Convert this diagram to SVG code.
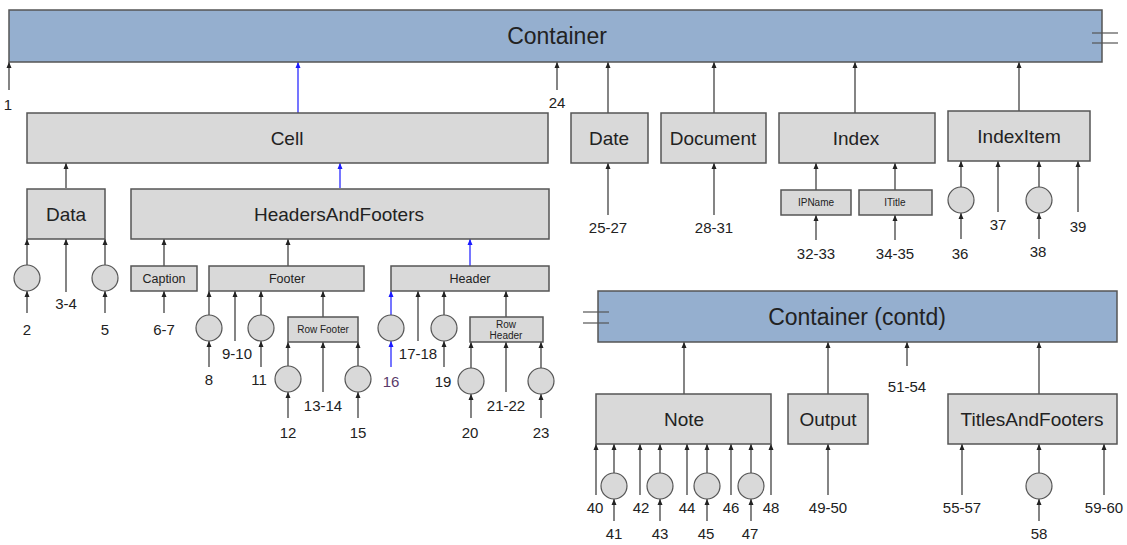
<svg xmlns="http://www.w3.org/2000/svg" width="1127" height="545" viewBox="0 0 1127 545">
<defs>
<marker id="ah" viewBox="0 0 6 6" refX="6" refY="3" markerWidth="6" markerHeight="6" markerUnits="userSpaceOnUse" orient="auto"><path d="M0,0.5 L6,3 L0,5.5 z" fill="#222"/></marker>
<marker id="ahb" viewBox="0 0 6 6" refX="6" refY="3" markerWidth="6" markerHeight="6" markerUnits="userSpaceOnUse" orient="auto"><path d="M0,0.5 L6,3 L0,5.5 z" fill="#1a1aff"/></marker>
<style>
.cont{fill:#95afcf;stroke:#555;stroke-width:1.5}
.box{fill:#d9d9d9;stroke:#555;stroke-width:1.5}
.circ{fill:#d9d9d9;stroke:#555;stroke-width:1.2}
.ln{stroke:#333;stroke-width:1.2;fill:none;marker-end:url(#ah)}
.bl{stroke:#1a1aff;stroke-width:1.2;fill:none;marker-end:url(#ahb)}
.mk{stroke:#555;stroke-width:1.2}
text{font-family:"Liberation Sans",Arial,sans-serif;fill:#222;text-anchor:middle}
.t22{font-size:23px}
.t18{font-size:19px}
.t12{font-size:12.5px}
.t10{font-size:10px}
.lb{font-size:15px}
</style>
</defs>

<g id="connectors">
<line class="ln" x1="9" y1="90" x2="9" y2="62"/>
<line class="bl" x1="298" y1="113" x2="298" y2="62"/>
<line class="ln" x1="557" y1="90" x2="557" y2="62"/>
<line class="ln" x1="608" y1="113" x2="608" y2="62"/>
<line class="ln" x1="714" y1="113" x2="714" y2="62"/>
<line class="ln" x1="855" y1="113" x2="855" y2="62"/>
<line class="ln" x1="1019" y1="111" x2="1019" y2="62"/>
<line class="ln" x1="66" y1="188" x2="66" y2="163"/>
<line class="bl" x1="340" y1="188" x2="340" y2="163"/>
<line class="ln" x1="27" y1="265" x2="27" y2="239"/>
<line class="ln" x1="27" y1="313" x2="27" y2="291"/>
<line class="ln" x1="66" y1="292" x2="66" y2="239"/>
<line class="ln" x1="105" y1="265" x2="105" y2="239"/>
<line class="ln" x1="105" y1="313" x2="105" y2="291"/>
<line class="ln" x1="164" y1="266" x2="164" y2="239"/>
<line class="ln" x1="164" y1="313" x2="164" y2="291"/>
<line class="ln" x1="288" y1="266" x2="288" y2="239"/>
<line class="bl" x1="470" y1="266" x2="470" y2="239"/>
<line class="ln" x1="209" y1="315" x2="209" y2="291"/>
<line class="ln" x1="209" y1="367" x2="209" y2="341"/>
<line class="ln" x1="235" y1="341" x2="235" y2="291"/>
<line class="ln" x1="261" y1="315" x2="261" y2="291"/>
<line class="ln" x1="261" y1="367" x2="261" y2="341"/>
<line class="ln" x1="323" y1="317" x2="323" y2="291"/>
<line class="ln" x1="288" y1="366" x2="288" y2="342"/>
<line class="ln" x1="288" y1="418" x2="288" y2="392"/>
<line class="ln" x1="323" y1="392" x2="323" y2="342"/>
<line class="ln" x1="358" y1="366" x2="358" y2="342"/>
<line class="ln" x1="358" y1="418" x2="358" y2="392"/>
<line class="bl" x1="391" y1="315" x2="391" y2="291"/>
<line class="bl" x1="391" y1="367" x2="391" y2="341"/>
<line class="ln" x1="418" y1="341" x2="418" y2="291"/>
<line class="ln" x1="444" y1="315" x2="444" y2="291"/>
<line class="ln" x1="444" y1="367" x2="444" y2="341"/>
<line class="ln" x1="506" y1="317" x2="506" y2="291"/>
<line class="ln" x1="471" y1="368" x2="471" y2="342"/>
<line class="ln" x1="471" y1="418" x2="471" y2="394"/>
<line class="ln" x1="506" y1="392" x2="506" y2="342"/>
<line class="ln" x1="541" y1="368" x2="541" y2="342"/>
<line class="ln" x1="541" y1="418" x2="541" y2="394"/>
<line class="ln" x1="608" y1="215" x2="608" y2="163"/>
<line class="ln" x1="714" y1="215" x2="714" y2="163"/>
<line class="ln" x1="816" y1="190" x2="816" y2="163"/>
<line class="ln" x1="895" y1="190" x2="895" y2="163"/>
<line class="ln" x1="816" y1="240" x2="816" y2="215"/>
<line class="ln" x1="895" y1="240" x2="895" y2="215"/>
<line class="ln" x1="961" y1="187" x2="961" y2="161"/>
<line class="ln" x1="961" y1="239" x2="961" y2="213"/>
<line class="ln" x1="998" y1="212" x2="998" y2="161"/>
<line class="ln" x1="1039" y1="187" x2="1039" y2="161"/>
<line class="ln" x1="1039" y1="239" x2="1039" y2="213"/>
<line class="ln" x1="1078" y1="212" x2="1078" y2="161"/>
<line class="ln" x1="684" y1="394" x2="684" y2="342"/>
<line class="ln" x1="828" y1="394" x2="828" y2="342"/>
<line class="ln" x1="907" y1="366" x2="907" y2="342"/>
<line class="ln" x1="1039" y1="394" x2="1039" y2="342"/>
<line class="ln" x1="596" y1="495" x2="596" y2="444"/>
<line class="ln" x1="614" y1="473" x2="614" y2="444"/>
<line class="ln" x1="614" y1="521" x2="614" y2="499"/>
<line class="ln" x1="640" y1="495" x2="640" y2="444"/>
<line class="ln" x1="660" y1="473" x2="660" y2="444"/>
<line class="ln" x1="660" y1="521" x2="660" y2="499"/>
<line class="ln" x1="687" y1="495" x2="687" y2="444"/>
<line class="ln" x1="707" y1="473" x2="707" y2="444"/>
<line class="ln" x1="707" y1="521" x2="707" y2="499"/>
<line class="ln" x1="731" y1="495" x2="731" y2="444"/>
<line class="ln" x1="751" y1="473" x2="751" y2="444"/>
<line class="ln" x1="751" y1="521" x2="751" y2="499"/>
<line class="ln" x1="771" y1="495" x2="771" y2="444"/>
<line class="ln" x1="828" y1="495" x2="828" y2="444"/>
<line class="ln" x1="962" y1="495" x2="962" y2="444"/>
<line class="ln" x1="1039" y1="473" x2="1039" y2="444"/>
<line class="ln" x1="1039" y1="521" x2="1039" y2="499"/>
<line class="ln" x1="1104" y1="495" x2="1104" y2="444"/>
</g>

<g id="container">
<rect class="cont" x="9" y="10" width="1093" height="52"/>
<text class="t22" x="557" y="44">Container</text>
<line class="mk" x1="1092" y1="33" x2="1118" y2="33"/>
<line class="mk" x1="1092" y1="43" x2="1118" y2="43"/>
</g>

<g id="container-contd">
<rect class="cont" x="598" y="291" width="519" height="51"/>
<text class="t22" x="857" y="325">Container (contd)</text>
<line class="mk" x1="583" y1="312" x2="609" y2="312"/>
<line class="mk" x1="583" y1="323" x2="609" y2="323"/>
</g>

<g id="cell"><rect class="box" x="27" y="113" width="521" height="50"/><text class="t18" x="287" y="145">Cell</text></g>
<g id="date"><rect class="box" x="571" y="113" width="77" height="50"/><text class="t18" x="609" y="145">Date</text></g>
<g id="document"><rect class="box" x="661" y="113" width="105" height="50"/><text class="t18" x="713" y="145">Document</text></g>
<g id="index"><rect class="box" x="779" y="113" width="156" height="50"/><text class="t18" x="856" y="145">Index</text></g>
<g id="indexitem"><rect class="box" x="948" y="111" width="142" height="50"/><text class="t18" x="1019" y="143">IndexItem</text></g>

<g id="data"><rect class="box" x="27" y="189" width="78" height="50"/><text class="t18" x="66" y="221">Data</text></g>
<g id="headersandfooters"><rect class="box" x="131" y="189" width="418" height="50"/><text class="t18" x="339" y="221">HeadersAndFooters</text></g>

<g id="data-c1"><circle class="circ" cx="27" cy="278" r="13"/></g>
<g id="data-c2"><circle class="circ" cx="105" cy="278" r="13"/></g>

<g id="caption"><rect class="box" x="131" y="266" width="66" height="25"/><text class="t12" x="164" y="283">Caption</text></g>
<g id="footer"><rect class="box" x="209" y="266" width="155" height="25"/><text class="t12" x="287" y="283">Footer</text></g>
<g id="header"><rect class="box" x="391" y="266" width="158" height="25"/><text class="t12" x="470" y="283">Header</text></g>

<g id="footer-c1"><circle class="circ" cx="209" cy="328" r="13"/></g>
<g id="footer-c2"><circle class="circ" cx="261" cy="328" r="13"/></g>
<g id="rowfooter"><rect class="box" x="288" y="317" width="70" height="25"/><text class="t10" x="323" y="333">Row Footer</text></g>
<g id="rowfooter-c1"><circle class="circ" cx="288" cy="379" r="13"/></g>
<g id="rowfooter-c2"><circle class="circ" cx="358" cy="379" r="13"/></g>

<g id="header-c1"><circle class="circ" cx="391" cy="328" r="13"/></g>
<g id="header-c2"><circle class="circ" cx="444" cy="328" r="13"/></g>
<g id="rowheader"><rect class="box" x="470" y="317" width="73" height="25"/><text class="t10" x="506" y="328">Row</text><text class="t10" x="506" y="339">Header</text></g>
<g id="rowheader-c1"><circle class="circ" cx="471" cy="381" r="13"/></g>
<g id="rowheader-c2"><circle class="circ" cx="541" cy="381" r="13"/></g>

<g id="ipname"><rect class="box" x="781" y="190" width="70" height="25"/><text class="t10" x="816" y="206">IPName</text></g>
<g id="ititle"><rect class="box" x="859" y="190" width="73" height="25"/><text class="t10" x="895" y="206">ITitle</text></g>
<g id="indexitem-c1"><circle class="circ" cx="961" cy="200" r="13"/></g>
<g id="indexitem-c2"><circle class="circ" cx="1039" cy="200" r="13"/></g>

<g id="note"><rect class="box" x="596" y="394" width="175" height="50"/><text class="t18" x="684" y="426">Note</text></g>
<g id="output"><rect class="box" x="788" y="394" width="80" height="50"/><text class="t18" x="828" y="426">Output</text></g>
<g id="titlesandfooters"><rect class="box" x="948" y="394" width="169" height="50"/><text class="t18" x="1032" y="426">TitlesAndFooters</text></g>
<g id="note-c1"><circle class="circ" cx="614" cy="486" r="13"/></g>
<g id="note-c2"><circle class="circ" cx="660" cy="486" r="13"/></g>
<g id="note-c3"><circle class="circ" cx="707" cy="486" r="13"/></g>
<g id="note-c4"><circle class="circ" cx="751" cy="486" r="13"/></g>
<g id="tf-c1"><circle class="circ" cx="1039" cy="486" r="13"/></g>

<g id="labels">
<text class="lb" x="8" y="110">1</text>
<text class="lb" x="557" y="108">24</text>
<text class="lb" x="27" y="335">2</text>
<text class="lb" x="66" y="309">3-4</text>
<text class="lb" x="105" y="335">5</text>
<text class="lb" x="164" y="335">6-7</text>
<text class="lb" x="209" y="385">8</text>
<text class="lb" x="237" y="359">9-10</text>
<text class="lb" x="259" y="385">11</text>
<text class="lb" x="288" y="438">12</text>
<text class="lb" x="323" y="411">13-14</text>
<text class="lb" x="358" y="438">15</text>
<text class="lb" x="391" y="387" style="fill:#5a3a6a">16</text>
<text class="lb" x="418" y="359">17-18</text>
<text class="lb" x="443" y="387">19</text>
<text class="lb" x="470" y="438">20</text>
<text class="lb" x="506" y="411">21-22</text>
<text class="lb" x="541" y="438">23</text>
<text class="lb" x="608" y="233">25-27</text>
<text class="lb" x="714" y="233">28-31</text>
<text class="lb" x="816" y="259">32-33</text>
<text class="lb" x="895" y="259">34-35</text>
<text class="lb" x="960" y="259">36</text>
<text class="lb" x="998" y="230">37</text>
<text class="lb" x="1038" y="257">38</text>
<text class="lb" x="1078" y="232">39</text>
<text class="lb" x="907" y="392">51-54</text>
<text class="lb" x="595" y="513">40</text>
<text class="lb" x="641" y="513">42</text>
<text class="lb" x="687" y="513">44</text>
<text class="lb" x="731" y="513">46</text>
<text class="lb" x="771" y="513">48</text>
<text class="lb" x="614" y="539">41</text>
<text class="lb" x="660" y="539">43</text>
<text class="lb" x="706" y="539">45</text>
<text class="lb" x="750" y="539">47</text>
<text class="lb" x="828" y="513">49-50</text>
<text class="lb" x="962" y="513">55-57</text>
<text class="lb" x="1039" y="539">58</text>
<text class="lb" x="1104" y="513">59-60</text>
</g>
</svg>
